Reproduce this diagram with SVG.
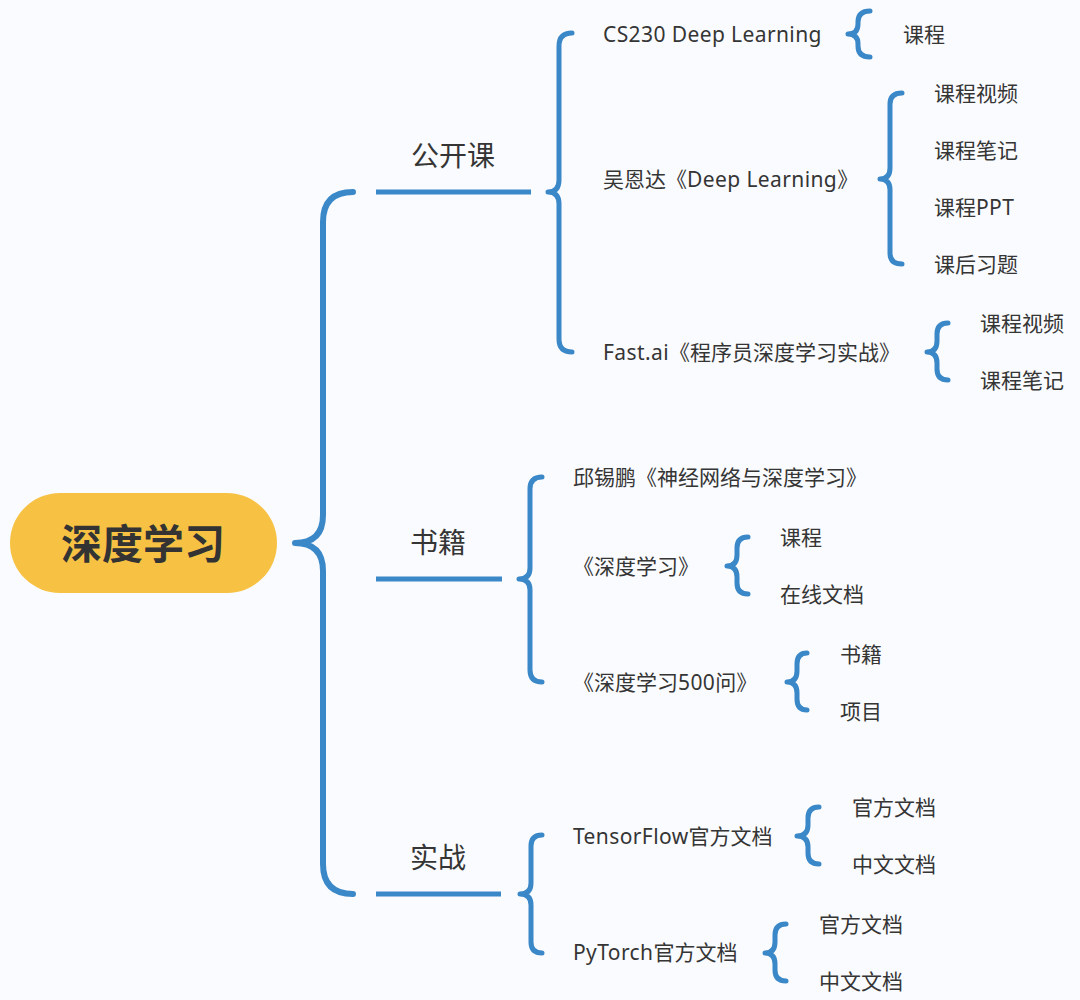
<svg xmlns="http://www.w3.org/2000/svg" width="1080" height="1000" viewBox="0 0 1080 1000">
<style>
text{font-family:"Noto Sans","Noto Sans CJK SC",sans-serif;fill:#353535;dominant-baseline:central}
.leaf{font-size:21px}
.lat{letter-spacing:0.4px}
.branch{font-size:28px}
.root{font-size:41px;font-weight:bold;fill:#333}
.br{fill:none;stroke:#3b88c8;stroke-width:5;stroke-linecap:round;stroke-linejoin:round}
.ln{fill:none;stroke:#3b88c8;stroke-width:5}
</style>
<rect width="1080" height="1000" fill="#fafbfe"/>
<g id="connectors">
<path class="br" style="stroke-width:6" d="M353,192 Q323,192 323,222 L323,515 Q323,543 295,543 Q323,543 323,571 L323,864 Q323,894 353,894"/>
<path class="ln" d="M376,192 H531"/>
<path class="ln" d="M376,579 H502"/>
<path class="ln" d="M376,894 H501"/>
<path class="br" d="M572,33 Q559,33 559,46 L559,180 Q559,192 548,192 Q559,192 559,204 L559,339 Q559,352 572,352"/>
<path class="br" d="M870,11 Q858,11 858,22 L858,24 Q858,34 848,34 Q858,34 858,44 L858,46 Q858,57 870,57"/>
<path class="br" d="M902,93 Q890,93 890,104 L890,168 Q890,179 880,179 Q890,179 890,190 L890,253 Q890,264 902,264"/>
<path class="br" d="M948,323 Q937,323 937,334 L937,341 Q937,352 927,352 Q937,352 937,363 L937,369 Q937,380 948,380"/>
<path class="br" d="M542,477 Q530,477 530,489 L530,568 Q530,579 519,579 Q530,579 530,590 L530,670 Q530,682 542,682"/>
<path class="br" d="M748,537 Q737,537 737,548 L737,555 Q737,566 727,566 Q737,566 737,577 L737,583 Q737,594 748,594"/>
<path class="br" d="M807,653 Q797,653 797,664 L797,671 Q797,682 787,682 Q797,682 797,693 L797,699 Q797,710 807,710"/>
<path class="br" d="M542,835 Q531,835 531,846 L531,883 Q531,894 520,894 Q531,894 531,905 L531,942 Q531,953 542,953"/>
<path class="br" d="M819,807 Q808,807 808,818 L808,825 Q808,836 797,836 Q808,836 808,847 L808,853 Q808,864 819,864"/>
<path class="br" d="M786,924 Q775,924 775,935 L775,942 Q775,953 765,953 Q775,953 775,964 L775,970 Q775,981 786,981"/>
</g>
<g id="root"><rect x="10" y="493" width="267" height="100" rx="50" fill="#f7c244"/><text class="root" x="143" y="543" text-anchor="middle">深度学习</text></g>
<g id="b1"><text class="branch" x="453" y="155" text-anchor="middle">公开课</text></g>
<g id="b2"><text class="branch" x="438" y="542" text-anchor="middle">书籍</text></g>
<g id="b3"><text class="branch" x="438" y="857" text-anchor="middle">实战</text></g>
<g id="n-cs230"><text class="leaf lat" x="603" y="34">CS230 Deep Learning</text></g>
<g id="n-cs230-1"><text class="leaf" x="903" y="34">课程</text></g>
<g id="n-wu"><text class="leaf" x="603" y="179">吴恩达《<tspan class="lat">Deep Learning</tspan>》</text></g>
<g id="n-wu-1"><text class="leaf" x="934" y="93">课程视频</text></g>
<g id="n-wu-2"><text class="leaf" x="934" y="150">课程笔记</text></g>
<g id="n-wu-3"><text class="leaf" x="934" y="207">课程<tspan class="lat">PPT</tspan></text></g>
<g id="n-wu-4"><text class="leaf" x="934" y="264">课后习题</text></g>
<g id="n-fast"><text class="leaf" x="603" y="352"><tspan class="lat">Fast.ai</tspan>《程序员深度学习实战》</text></g>
<g id="n-fast-1"><text class="leaf" x="980" y="323">课程视频</text></g>
<g id="n-fast-2"><text class="leaf" x="980" y="380">课程笔记</text></g>
<g id="n-qiu"><text class="leaf" x="573" y="477">邱锡鹏《神经网络与深度学习》</text></g>
<g id="n-dl"><text class="leaf" x="573" y="566">《深度学习》</text></g>
<g id="n-dl-1"><text class="leaf" x="780" y="537">课程</text></g>
<g id="n-dl-2"><text class="leaf" x="780" y="594">在线文档</text></g>
<g id="n-500"><text class="leaf" x="573" y="682">《深度学习<tspan class="lat">500</tspan>问》</text></g>
<g id="n-500-1"><text class="leaf" x="840" y="654">书籍</text></g>
<g id="n-500-2"><text class="leaf" x="840" y="711">项目</text></g>
<g id="n-tf"><text class="leaf" x="573" y="836"><tspan class="lat">TensorFlow</tspan>官方文档</text></g>
<g id="n-tf-1"><text class="leaf" x="852" y="807">官方文档</text></g>
<g id="n-tf-2"><text class="leaf" x="852" y="864">中文文档</text></g>
<g id="n-pt"><text class="leaf" x="573" y="952"><tspan class="lat">PyTorch</tspan>官方文档</text></g>
<g id="n-pt-1"><text class="leaf" x="819" y="924">官方文档</text></g>
<g id="n-pt-2"><text class="leaf" x="819" y="981">中文文档</text></g>
</svg>
